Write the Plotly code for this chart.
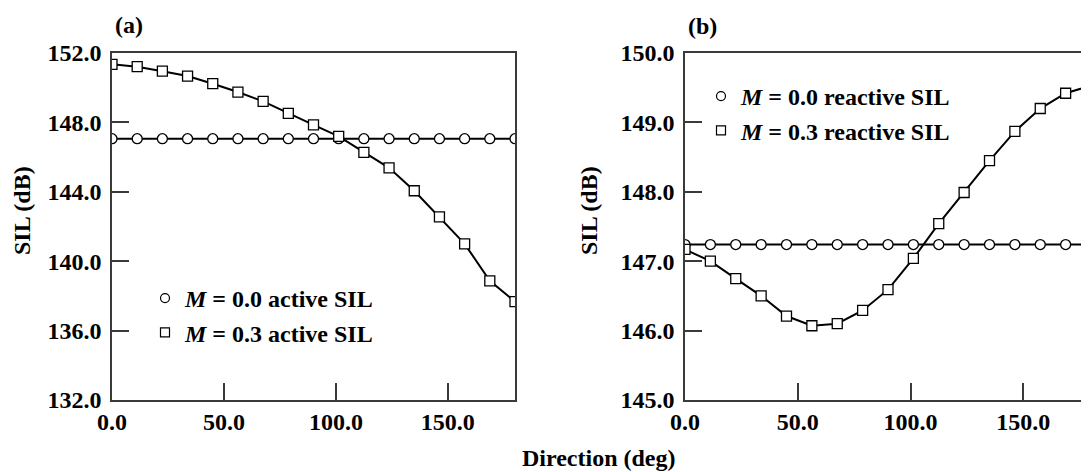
import plotly.graph_objects as go

# direction angle (deg), shared by both panels
direction_deg = [0, 11.25, 22.5, 33.75, 45, 56.25, 67.5, 78.75, 90,
                 101.25, 112.5, 123.75, 135, 146.25, 157.5, 168.75, 180]

# (a) active SIL (dB)
active_m00 = [147.06, 147.06, 147.06, 147.06, 147.06, 147.06, 147.06, 147.06, 147.06,
              147.06, 147.06, 147.06, 147.06, 147.06, 147.06, 147.06, 147.06]
active_m03 = [151.35, 151.21, 150.95, 150.67, 150.23, 149.75, 149.21, 148.52, 147.86,
              147.20, 146.27, 145.38, 144.06, 142.55, 141.00, 138.87, 137.67]

# (b) reactive SIL (dB)
reactive_m00 = [147.24, 147.24, 147.24, 147.24, 147.24, 147.24, 147.24, 147.24, 147.24,
                147.24, 147.24, 147.24, 147.24, 147.24, 147.24, 147.24, 147.24]
reactive_m03 = [147.17, 147.00, 146.75, 146.50, 146.21, 146.07, 146.10, 146.29, 146.59,
                147.04, 147.54, 147.99, 148.45, 148.87, 149.20, 149.42, 149.53]

ticks_a = [132, 136, 140, 144, 148, 152]
ticks_b = [145, 146, 147, 148, 149, 150]
ticks_x = [0, 50, 100, 150]

FONT = dict(family="Liberation Serif", size=24, color="black", weight="bold")
AXIS = "#3a3a3a"
W, H = 1089, 472
OFF = 8  # page body margin

fig = go.Figure()

def add_series(x, y, symbol, xa, ya):
    fig.add_trace(go.Scatter(
        x=x, y=y, mode="lines+markers", xaxis=xa, yaxis=ya, showlegend=False,
        line=dict(color="black", width=2),
        marker=dict(symbol=symbol, size=10, color="white", line=dict(color="black", width=1.3))))

def add_key(name, symbol, legend, group):
    fig.add_trace(go.Scatter(
        x=[None], y=[None], mode="markers", name=name, legend=legend, legendgroup=group,
        marker=dict(symbol=symbol, size=9, color="white", line=dict(color="black", width=1.2))))

add_series(direction_deg, active_m00, "circle", "x", "y")
add_series(direction_deg, active_m03, "square", "x", "y")
add_series(direction_deg, reactive_m00, "circle", "x2", "y2")
add_series(direction_deg, reactive_m03, "square", "x2", "y2")

add_key("<i>M</i> = 0.0 active SIL", "circle", "legend", "a0")
add_key("<i>M</i> = 0.3 active SIL", "square", "legend", "a3")
add_key("<i>M</i> = 0.0 reactive SIL", "circle", "legend2", "b0")
add_key("<i>M</i> = 0.3 reactive SIL", "square", "legend2", "b3")

xcommon = dict(range=[0, 180], tickvals=ticks_x, tickformat=".1f", ticks="inside", ticklen=17,
               tickcolor=AXIS, tickwidth=1.5, showline=True, linecolor=AXIS, linewidth=1.5,
               mirror=True, showgrid=False, zeroline=False, tickfont=FONT, ticklabelstandoff=-1,
               automargin=False)
ycommon = dict(tickformat=".1f", ticks="inside", ticklen=17, tickcolor=AXIS, tickwidth=1.5,
               showline=True, linecolor=AXIS, linewidth=1.5, showgrid=False, zeroline=False,
               tickfont=FONT, ticklabelstandoff=4, automargin=False)

legend_common = dict(bgcolor="rgba(0,0,0,0)", font=FONT, itemwidth=30, tracegroupgap=0,
                     xanchor="left", yanchor="top", itemclick=False)


def px_x(p):
    return (p - OFF) / W


def px_y(p):
    return 1 - (p - OFF) / H


fig.update_layout(
    width=W, height=H,
    margin=dict(l=0, r=0, t=0, b=0, autoexpand=False),
    paper_bgcolor="white", plot_bgcolor="white",
    font=FONT,
    xaxis=dict(domain=[px_x(112), px_x(515)], anchor="y", **xcommon),
    yaxis=dict(domain=[px_y(400), px_y(53)], anchor="x", range=[132, 152], tickvals=ticks_a,
               mirror=True, **ycommon),
    xaxis2=dict(domain=[px_x(685), px_x(1091)], anchor="y2", **xcommon),
    yaxis2=dict(domain=[px_y(400), px_y(53)], anchor="x2", range=[145, 150], tickvals=ticks_b,
                mirror=False, **ycommon),
    legend=dict(x=px_x(145), y=px_y(276), **legend_common),
    legend2=dict(x=px_x(701), y=px_y(74), **legend_common),
    annotations=[
        dict(text="(a)", x=px_x(113), y=px_y(25), xanchor="left", yanchor="middle"),
        dict(text="(b)", x=px_x(686), y=px_y(26), xanchor="left", yanchor="middle"),
        dict(text="SIL (dB)", x=px_x(22), y=px_y(211), textangle=-90,
             xanchor="center", yanchor="middle"),
        dict(text="SIL (dB)", x=px_x(589), y=px_y(211), textangle=-90,
             xanchor="center", yanchor="middle"),
        dict(text="Direction (deg)", x=px_x(599), y=px_y(458),
             xanchor="center", yanchor="middle"),
    ],
)
fig.update_annotations(xref="paper", yref="paper", showarrow=False, font=FONT)

fig.write_html("out.html")
